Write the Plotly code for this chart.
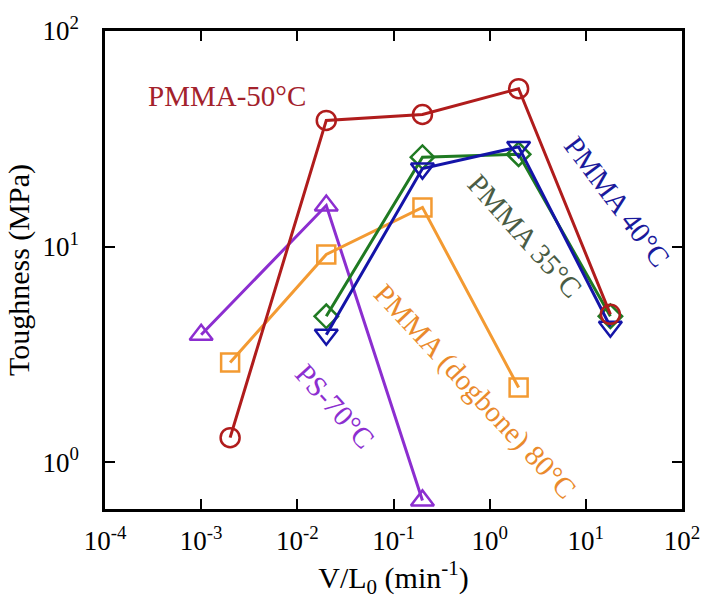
import plotly.graph_objects as go

# Strain rate V/L0 (min^-1) and toughness (MPa) for each material / temperature
x_pmma50 = [0.002, 0.02, 0.2, 2.0, 18.0]
y_pmma50 = [1.30, 38.5, 41.0, 54.0, 4.85]

x_pmma35 = [0.02, 0.2, 2.0, 18.0]
y_pmma35 = [4.75, 26.0, 26.8, 4.75]

x_pmma40 = [0.02, 0.2, 2.0, 18.0]
y_pmma40 = [3.9, 23.0, 29.0, 4.25]

x_dogbone = [0.002, 0.02, 0.2, 2.0]
y_dogbone = [2.9, 9.2, 15.2, 2.22]

x_ps70 = [0.001, 0.02, 0.2]
y_ps70 = [3.9, 15.5, 0.665]

x_tick_vals = [1e-4, 1e-3, 1e-2, 1e-1, 1e0, 1e1, 1e2]
x_tick_text = ["10<sup>-4</sup>", "10<sup>-3</sup>", "10<sup>-2</sup>", "10<sup>-1</sup>",
               "10<sup>0</sup>", "10<sup>1</sup>", "10<sup>2</sup>"]
y_tick_vals = [1e0, 1e1, 1e2]
y_tick_text = ["10<sup>0</sup>", "10<sup>1</sup>", "10<sup>2</sup>"]

FONT = "Liberation Serif, Times New Roman, serif"

series = [
    # name, x, y, symbol, line colour
    ("PS-70°C", x_ps70, y_ps70, "triangle-up-open", "#8c2ed0"),
    ("PMMA (dogbone) 80°C", x_dogbone, y_dogbone, "square-open", "#f39a32"),
    ("PMMA 35°C", x_pmma35, y_pmma35, "diamond-open", "#1f7a22"),
    ("PMMA 40°C", x_pmma40, y_pmma40, "triangle-down-open", "#1414a8"),
    ("PMMA-50°C", x_pmma50, y_pmma50, "circle-open", "#b01c1c"),
]

sizes = {"circle-open": 19, "diamond-open": 18, "triangle-down-open": 20,
         "triangle-up-open": 20, "square-open": 18}

fig = go.Figure()
for name, xs, ys, sym, col in series:
    fig.add_trace(go.Scatter(
        x=xs, y=ys, mode="lines+markers", name=name,
        line=dict(color=col, width=3),
        marker=dict(symbol=sym, size=sizes[sym], color=col,
                    line=dict(color=col, width=2.5)),
        cliponaxis=False,
    ))

# In-plot series labels (positions in log10 data units)
labels = [
    ("PMMA-50°C", -2.73, 1.70, 0, "#a3222c"),
    ("PMMA 40°C", 1.32, 1.21, 53, "#1a1a9c"),
    ("PMMA 35°C", 0.37, 1.05, 48, "#4a5c44"),
    ("PMMA (dogbone) 80°C", -0.15, 0.33, 47, "#ea8a2c"),
    ("PS-70°C", -1.61, 0.26, 48, "#8c2ed0"),
]
for text, lx, ly, ang, col in labels:
    fig.add_annotation(x=lx, y=ly, xref="x", yref="y", text=text,
                       showarrow=False, textangle=ang,
                       font=dict(family=FONT, size=29, color=col))

axis_common = dict(
    showline=True, linecolor="black", linewidth=2.5, mirror="ticks",
    ticks="inside", ticklen=10, tickwidth=2, tickcolor="black",
    showgrid=False, zeroline=False,
    tickfont=dict(family=FONT, size=27, color="black"),
)

fig.update_xaxes(type="log", range=[-4, 2], tickvals=x_tick_vals, ticktext=x_tick_text,
                 ticklabelstandoff=6,
                 title=dict(text="V/L<sub>0</sub> (min<sup>-1</sup>)",
                            font=dict(family=FONT, size=30, color="black"), standoff=4),
                 **axis_common)
fig.update_yaxes(type="log", range=[-0.217, 2], tickvals=y_tick_vals, ticktext=y_tick_text,
                 ticklabelstandoff=18,
                 title=dict(text="Toughness (MPa)",
                            font=dict(family=FONT, size=30, color="black"), standoff=4),
                 **axis_common)

fig.update_layout(
    width=712, height=600,
    margin=dict(l=105, r=24, t=29, b=91),
    plot_bgcolor="white", paper_bgcolor="white",
    showlegend=False,
)

fig.write_html("out.html")
